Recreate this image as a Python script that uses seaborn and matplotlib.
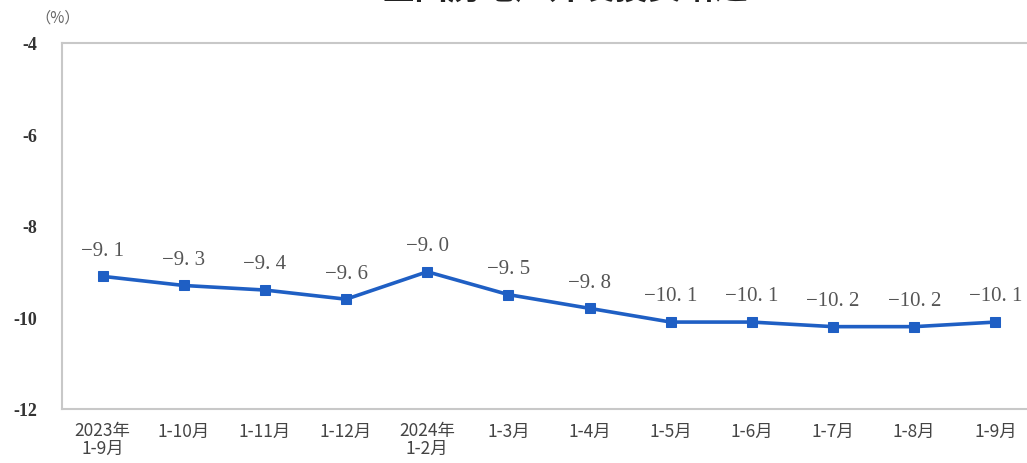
import numpy as np
import pandas as pd
import matplotlib
matplotlib.use("Agg")
import matplotlib.pyplot as plt
import seaborn as sns
from matplotlib.ticker import FixedLocator

# data
periods = ["2023年\n1-9月", "1-10月", "1-11月", "1-12月", "2024年\n1-2月", "1-3月",
           "1-4月", "1-5月", "1-6月", "1-7月", "1-8月", "1-9月"]
growth = [-9.1, -9.3, -9.4, -9.6, -9.0, -9.5, -9.8, -10.1, -10.1, -10.2, -10.2, -10.1]
y_ticks = [-4, -6, -8, -10, -12]

df = pd.DataFrame({"pos": np.arange(len(periods)), "growth": growth})

sns.set_style("white")
plt.rcParams["font.family"] = ["Noto Sans CJK SC", "DejaVu Sans"]

fig = plt.figure(figsize=(10.27, 4.64), dpi=100)
W, H = 1027, 464
ax = fig.add_axes([62 / W, (H - 410) / H, (1036 - 62) / W, (410 - 44) / H])

line_color = "#1f5fc4"
sns.lineplot(data=df, x="pos", y="growth", ax=ax, color=line_color, lw=2.6,
             marker="s", markersize=7, markeredgecolor=line_color, sort=False)

# point labels
for x, v in zip(df["pos"], df["growth"]):
    txt = f"{v:.1f}".replace("-", "\u2212").replace(".", ". ")
    ax.annotate(txt, (x, v), xytext=(0, 12), textcoords="offset points",
                ha="center", va="bottom", fontsize=15, color="#555555",
                family=["Liberation Serif", "DejaVu Serif"])

ax.set_xlim(-0.5, len(periods) - 0.5)
ax.set_ylim(-12, -4)
ax.set_yticks(y_ticks)
ax.set_yticklabels([str(t) for t in y_ticks], family="Liberation Serif",
                   fontweight="bold", fontsize=13, color="#333333")
ax.tick_params(axis="y", direction="in", length=8, color="#bbbbbb", pad=18)

ax.set_xticks(df["pos"])
ax.set_xticklabels(periods, fontsize=12.5, color="#444444", linespacing=0.95,
                   fontweight="medium")
ax.tick_params(axis="x", which="major", length=0, pad=9)
ax.xaxis.set_minor_locator(FixedLocator(np.arange(0.5, len(periods) - 0.5, 1)))
ax.tick_params(axis="x", which="minor", direction="in", length=6, color="#bbbbbb")

for s in ["top", "left", "bottom"]:
    ax.spines[s].set_color("#c8c8c8")
    ax.spines[s].set_linewidth(1.5)
ax.spines["right"].set_visible(False)

ax.set_xlabel("")
ax.set_ylabel("")

fig.text(35 / W, 1 - 18 / H, "（%）", fontsize=11, color="#666666", va="center")
fig.text(565 / W, 1 + 10 / H, "全国房地产开发投资增速", fontsize=24,
         fontweight="bold", color="#222222", ha="center", va="center")

fig.savefig("out.png", dpi=100)
